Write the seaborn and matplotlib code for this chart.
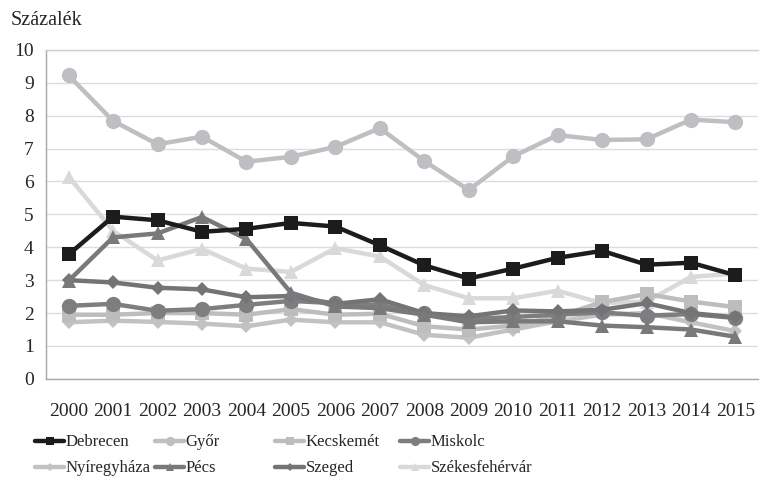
import pandas as pd
import matplotlib.pyplot as plt
import seaborn as sns
from matplotlib.ticker import FixedLocator

# years on the x axis
years = list(range(2000, 2016))

# values (percent)
debrecen = [3.78, 4.93, 4.82, 4.47, 4.56, 4.74, 4.63, 4.06, 3.45, 3.05, 3.35, 3.68, 3.89, 3.47, 3.53, 3.15]
gyor = [9.22, 7.84, 7.13, 7.36, 6.6, 6.75, 7.05, 7.62, 6.62, 5.74, 6.76, 7.41, 7.26, 7.28, 7.88, 7.8]
kecskemet = [1.95, 1.95, 2.0, 2.0, 1.95, 2.12, 1.95, 1.98, 1.6, 1.5, 1.62, 1.9, 2.33, 2.58, 2.35, 2.18]
miskolc = [2.22, 2.28, 2.07, 2.12, 2.25, 2.37, 2.3, 2.25, 2.0, 1.82, 1.88, 1.95, 2.02, 1.92, 1.97, 1.85]
nyiregyhaza = [1.72, 1.77, 1.73, 1.68, 1.6, 1.8, 1.72, 1.72, 1.34, 1.25, 1.5, 1.75, 1.95, 2.0, 1.72, 1.45]
pecs = [2.98, 4.3, 4.42, 4.92, 4.25, 2.62, 2.2, 2.15, 1.95, 1.72, 1.75, 1.75, 1.62, 1.57, 1.5, 1.28]
szeged = [3.0, 2.93, 2.77, 2.72, 2.48, 2.52, 2.28, 2.42, 2.0, 1.9, 2.08, 2.05, 2.1, 2.3, 2.0, 1.87]
szekesfehervar = [6.15, 4.5, 3.6, 3.95, 3.35, 3.25, 3.97, 3.72, 2.85, 2.45, 2.45, 2.68, 2.3, 2.35, 3.1, 3.2]

cities = ["Debrecen", "Győr", "Kecskemét", "Miskolc",
          "Nyíregyháza", "Pécs", "Szeged", "Székesfehérvár"]
series = [debrecen, gyor, kecskemet, miskolc, nyiregyhaza, pecs, szeged, szekesfehervar]
colors = ["#1c1c1c", "#bfbfc3", "#bdbdbd", "#7e7e80",
          "#c2c2c4", "#79797b", "#747476", "#d9d9d9"]
markers = ["s", "o", "s", "o", "D", "^", "D", "^"]
msizes = [10, 11, 10, 11, 7, 10, 7, 10]

# long form table for seaborn
rows = []
for name, vals in zip(cities, series):
    for y, v in zip(years, vals):
        rows.append({"Év": y, "Érték": v, "Város": name})
df = pd.DataFrame(rows)

sns.set_style("white")
plt.rcParams["font.family"] = ["Liberation Serif", "DejaVu Serif"]

fig = plt.figure(figsize=(7.6, 4.79), dpi=100)
ax = fig.add_axes([0.061, 0.209, 0.936, 0.687])

# draw order: light lines first, dark ones on top
order = [1, 7, 4, 2, 3, 6, 5, 0]
for i in order:
    d = df[df["Város"] == cities[i]]
    sns.lineplot(data=d, x="Év", y="Érték", ax=ax, color=colors[i],
                 marker=markers[i], markersize=msizes[i], markeredgewidth=0,
                 linewidth=3.2, label=cities[i])

ax.set_ylim(0, 10)
ax.set_yticks(range(0, 11))
ax.set_xlim(1999.5, 2015.5)
ax.set_xticks(years)
ax.xaxis.set_minor_locator(FixedLocator([y - 0.5 for y in years] + [2015.5]))
ax.tick_params(axis="x", which="major", length=0, pad=17, labelsize=14)
ax.tick_params(axis="x", which="minor", length=5, color="#a0a0a0", width=1)
ax.tick_params(axis="y", length=0, pad=9, labelsize=14)
ax.grid(axis="y", color="#dcdcdc", linewidth=1)
ax.set_axisbelow(True)
ax.set_xlabel("")
ax.set_ylabel("")
for side in ["left", "bottom", "top", "right"]:
    ax.spines[side].set_color("#a8a8a8")
    ax.spines[side].set_linewidth(1)
ax.spines["top"].set_color("#cfcfcf")
ax.spines["right"].set_visible(False)

fig.text(0.014, 0.957, "Százalék", fontsize=14.5, ha="left", va="center")

# legend: 4 equal-width columns, 2 rows (one small legend per column)
h, l = ax.get_legend_handles_labels()
hd = dict(zip(l, h))
ax.get_legend().remove()
col_x = [35 / 760, 155 / 760, 275 / 760, 400 / 760]
for j in range(4):
    names = [cities[j], cities[j + 4]]
    leg = fig.legend([hd[c] for c in names], names, frameon=False,
                     loc="upper left", bbox_to_anchor=(col_x[j], 0.093),
                     fontsize=12, markerscale=0.6, handlelength=1.75,
                     handletextpad=0.1, labelspacing=0.6,
                     borderpad=0, borderaxespad=0)

fig.savefig("out.png", dpi=100)
